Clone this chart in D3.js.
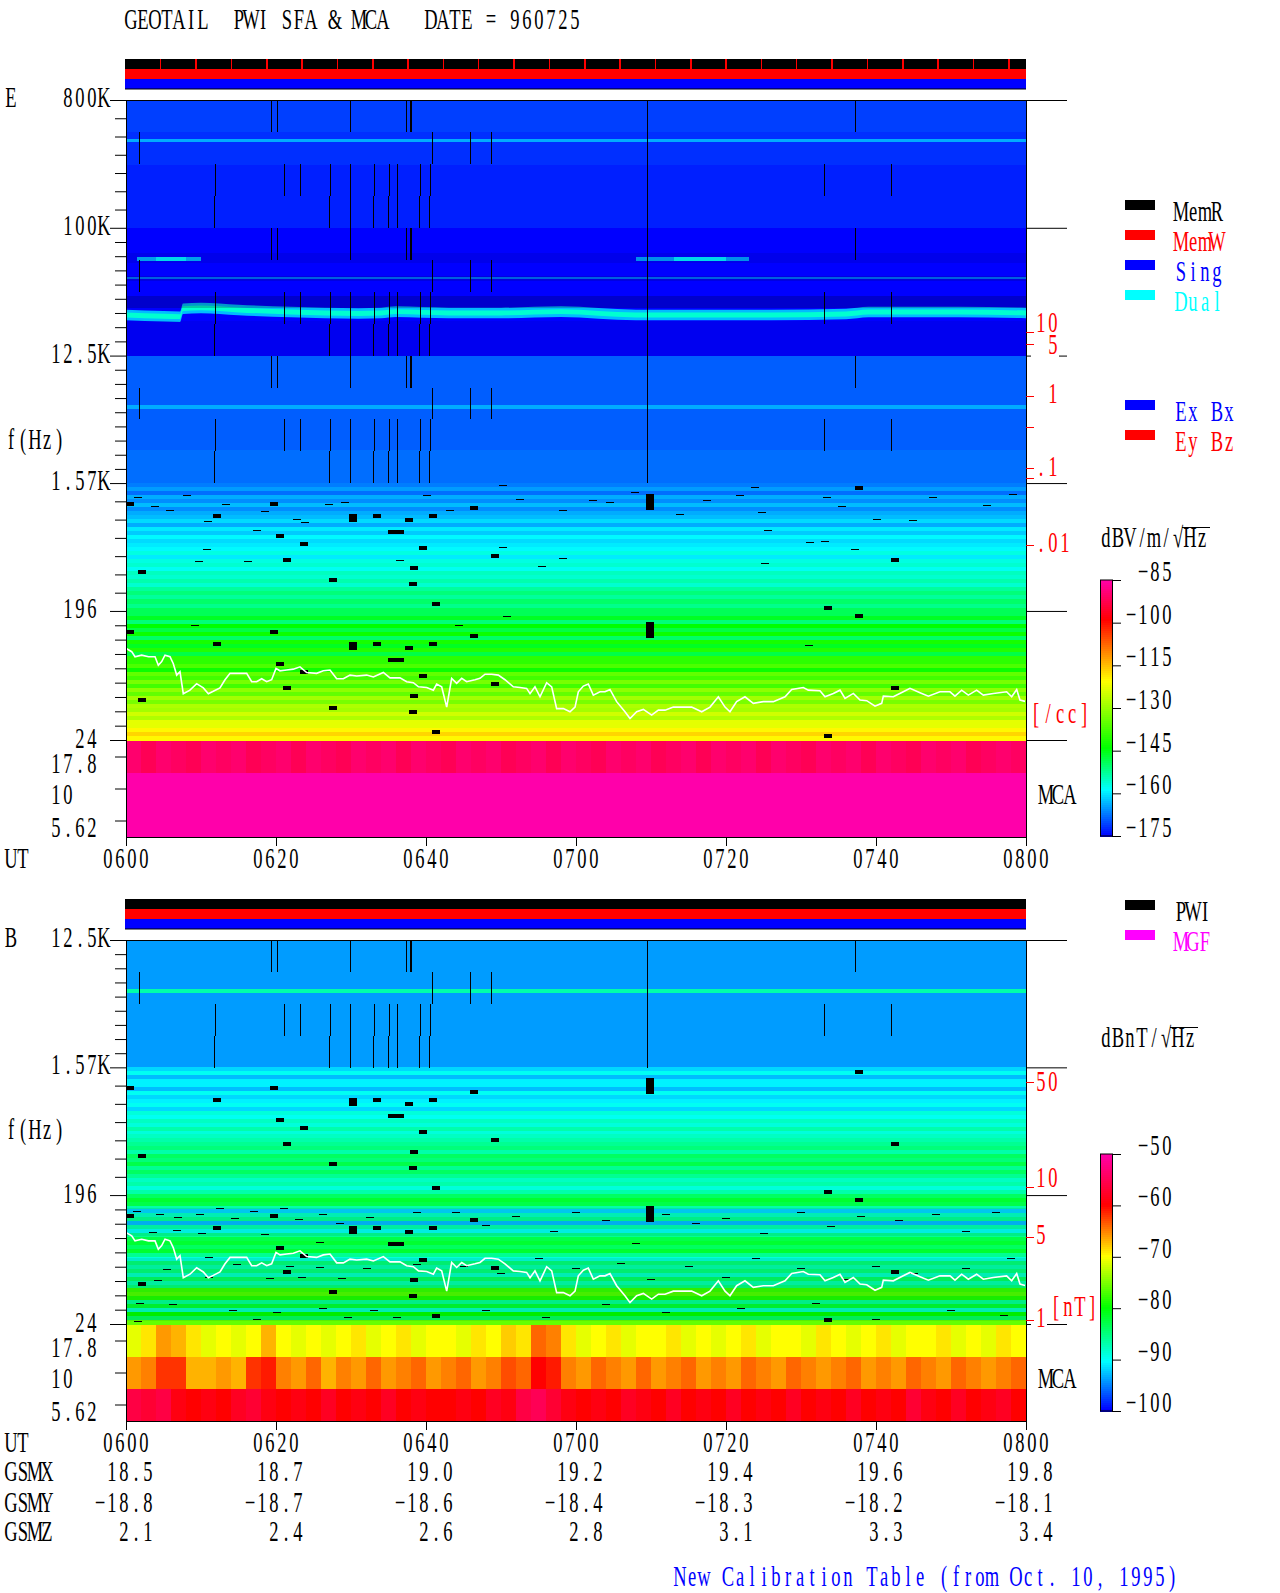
<!DOCTYPE html>
<html>
<head>
<meta charset="utf-8">
<script src="https://cdn.jsdelivr.net/npm/d3@7"></script>
<style>
  html, body { margin: 0; background: #fff; }
  svg { display: block; }
  text { font-family: "Liberation Serif", serif; font-size: 28.5px; white-space: pre; }
  .cell { shape-rendering: crispEdges; }
</style>
</head>
<body>
<svg width="1280" height="1593"></svg>
<script>
// GEOTAIL PWI SFA & MCA, 1996-07-25. All levels are estimates.
// The pixel speckle can't be read cell by cell, so it is given as a level per frequency row.

const timeTicks = [0, 20, 40, 60, 80, 100, 120];
const timeLabels = ['0600', '0620', '0640', '0700', '0720', '0740', '0800'];
const gsmx = ['18.5', '18.7', '19.0', '19.2', '19.4', '19.6', '19.8'];
const gsmy = ['−18.8', '−18.7', '−18.6', '−18.4', '−18.3', '−18.2', '−18.1'];
const gsmz = ['2.1', '2.4', '2.6', '2.8', '3.1', '3.3', '3.4'];

const eFreqTicks = [800000, 100000, 12500, 1570, 196, 24];
const bFreqTicks = [12500, 1570, 196, 24];
const mcaLabels = ['17.8', '10', '5.62'];

// UT minutes of the red marks on the top status strip
const memWriteTimes = [4.53, 9.24, 13.95, 18.67, 23.38, 28.09, 32.8, 37.51, 42.22, 46.93, 51.64, 56.36, 61.07,
  65.78, 70.49, 75.2, 79.91, 84.62, 89.33, 94.05, 98.76, 103.47, 108.18, 112.89, 117.6];

// upper decades of E: [top of the row in Hz, dB]
const eUpperRows = [
  [800000, -171], [475000, -172], [422000, -164], [405000, -172], [278000, -173], [100000, -175],
  [44900, -168], [43500, -175], [12500, -169], [5600, -164], [5250, -169], [2690, -168]
];

const bUpperRows = [[12500, -94.2], [5625, -87], [5270, -94.2]];

// 1.57K down to 24 Hz, equal rows from the top
const eLowRows = [
  -167, -165, -168, -164, -166, -163, -166, -164, -163, -161, -164, -160, -162, -159, -161, -160,
  -159, -157, -160, -157, -156, -158, -155, -156, -154, -156, -153, -151, -153, -150, -152, -149,
  -149, -146, -151, -144, -148, -143, -150, -142, -146, -141, -148, -140, -140, -137, -143, -135,
  -138, -133, -138, -131, -135, -129, -133, -128, -129, -125, -128, -123, -123, -120, -117, -120
];
const bLowRows = [
  -92, -90, -93, -91, -91, -93, -90, -92, -91, -90, -92, -89, -90, -88, -89, -87, -89, -88, -87,
  -86, -85, -87, -84, -85, -83, -86, -84, -86, -88, -87, -89, -87, -84, -82, -83,
  -87, -92, -88, -86, -93, -87, -90, -86, -83, -82, -84, -82, -86, -89, -85, -87,
  -85, -88, -84, -87, -85, -78, -77, -79, -86, -82, -88, -80, -84, -76
];

// MCA channels, from the highest, each one a series in equal time steps
const eMcaHigh = [-90, -92, -90, -91, -92, -90, -91, -90, -92, -91, -90, -92, -90, -91, -92, -90, -91, -90, -92, -90,
  -91, -92, -90, -91, -90, -92, -91, -90, -92, -90, -91, -92, -90, -91, -90, -92, -91, -90, -92, -90,
  -91, -90, -92, -90, -91, -92, -90, -91, -90, -92, -90, -91, -92, -90, -91, -90, -92, -91, -90, -91];
const eMcaMid = [-85];
const eMcaLow = [-85];
const bMcaHigh = [-71, -69, -66, -67, -69, -71, -70, -71, -70, -67, -70, -71, -70, -71, -70, -69, -71, -70, -69, -71,
  -70, -70, -71, -69, -70, -68, -69, -64, -65, -69, -71, -70, -69, -71, -70, -70, -69, -71, -70, -71,
  -70, -69, -71, -70, -70, -71, -69, -70, -71, -70, -69, -71, -70, -70, -69, -71, -70, -71, -69, -70];
const bMcaMid = [-66, -65, -62, -62, -67, -67, -66, -67, -62, -61, -65, -66, -64, -67, -65, -66, -64, -66, -65, -64,
  -66, -65, -64, -66, -65, -63, -64, -60, -61, -65, -66, -64, -65, -66, -64, -66, -65, -64, -66, -65,
  -66, -64, -65, -66, -64, -65, -66, -65, -64, -66, -65, -66, -64, -65, -66, -64, -65, -66, -65, -64];
const bMcaLow = [-56, -57, -56, -59, -60, -59, -60, -58, -57, -59, -60, -59, -60, -58, -60, -59, -60, -58, -60, -59,
  -60, -60, -59, -60, -58, -59, -56, -55, -57, -59, -60, -59, -60, -58, -59, -60, -58, -60, -59, -60,
  -58, -60, -59, -60, -58, -60, -59, -60, -58, -60, -59, -60, -57, -59, -60, -58, -60, -59, -58, -60];

// the bright band near 25 kHz: [minute, Hz]
const plasmaBand = [[0, 24200], [5, 23700], [7.2, 23540], [7.6, 26800], [10, 27130], [15, 26250], [22, 25400],
  [31, 24800], [34, 25000], [36, 25540], [43, 25000], [50, 25000], [58, 25540], [68, 24200], [76, 24200], [86, 24200],
  [96, 24600], [99, 25400], [111, 25400], [120, 25000]];

// short emissions: [start minute, end minute, Hz, dB]
const emissions = [[1.5, 4, 60200, -164], [4, 8, 60200, -160], [8, 10, 60200, -164], [68, 73, 60500, -165],
  [73, 80, 60200, -160], [80, 83, 59800, -165]];

// share of black dots in a frequency band: [top Hz, bottom Hz, share]
const eDropouts = [[66000, 56000, 0.08], [46000, 42000, 0.12], [33000, 27200, 0.2], [22000, 12500, 0.06]];
const bDropouts = [[158, 100, 0.07], [70, 25, 0.07]];

// vertical gaps, one list per quarter of a decade, in minutes
const gapTimes = [
  [19.27, 20.07, 29.8, 37.29, 37.87, 38, 69.43, 97.2],
  [1.67, 40.8, 45.87, 48.73, 69.43],
  [11.8, 21, 23.2, 27.2, 29.87, 33.07, 35.07, 36.13, 39.24, 40.57, 69.43, 93.1, 102.04],
  [11.67, 27.13, 29.8, 32.93, 34.93, 36.07, 39.13, 40.4, 69.43]
];

// black cells of the lower band: [minute, Hz in the 1.57K-196 decade, columns, rows]; they show again a decade below
const blackCells = [[0.49, 1115, 1, 1], [19.73, 1115, 1, 1], [12.09, 917, 1, 1], [30.27, 888, 1, 2], [33.47, 917, 1, 1],
  [37.73, 859, 1, 1], [36, 708, 2, 1], [20.53, 663, 1, 1], [23.73, 583, 1, 1], [21.47, 449, 1, 1], [2.09, 369, 1, 1],
  [38.36, 394, 1, 1], [27.6, 324, 1, 1], [38.27, 304, 1, 1], [40.93, 917, 1, 1], [46.4, 1046, 1, 1], [39.64, 546, 1, 1],
  [49.2, 479, 1, 1], [69.87, 1152, 1, 4], [41.33, 220, 1, 1], [97.73, 1446, 1, 1], [102.53, 449, 1, 1], [93.6, 206, 1, 1]];

// thin black dashes: [minute, Hz]
const eDashes = [[1.64, 1250], [3.87, 1073], [5.87, 1017], [8.09, 1286], [10.98, 847], [13.29, 1120], [17.42, 727], [18.53, 995],
  [22.76, 880], [23.87, 832], [27, 1120], [29.2, 1150], [10.76, 540], [9.73, 439], [16.31, 439], [36.53, 446], [9.2, 157],
  [40.09, 1300], [43.2, 1006], [50.31, 1510], [52.53, 1203], [58.31, 1006], [62.31, 1183], [64.53, 1150], [67.87, 1355],
  [73.87, 955], [77.42, 1183], [50.31, 554], [58.31, 466], [55.42, 406], [50.76, 180], [44.44, 157],
  [83.87, 1468], [81.87, 1286], [84.76, 979], [93.42, 1260], [95.42, 1073], [100.09, 880], [104.98, 857], [107.64, 1250],
  [114.76, 1092], [118.31, 1309], [85.64, 735], [91.2, 597], [93.2, 613], [97.2, 540], [85.2, 430], [91.11, 113]];
const bDashes = [[1.42, 152], [4.53, 144], [6.98, 138], [9.87, 144], [12.53, 158], [14.53, 134], [17, 152], [21, 158], [23, 133],
  [26.31, 144], [28.53, 124], [32.53, 138], [38.76, 150], [3.64, 108], [6.76, 111], [10.09, 106], [18.53, 104], [25.87, 92],
  [5.42, 59], [11, 72], [14.76, 64], [21.87, 62], [25.87, 61], [32.09, 60], [38.76, 64], [4.31, 49], [11, 52], [19.2, 51],
  [23.42, 52], [28.76, 51], [1.87, 34], [6.31, 33], [14.31, 30], [20.09, 29], [26.31, 31], [33, 30], [36.09, 27], [29.64, 27],
  [17.42, 26], [1.64, 25],
  [44, 150], [48, 120], [52, 140], [57, 110], [60, 150], [64, 130], [68, 90], [72, 145], [76, 125], [80, 135], [85, 105],
  [90, 150], [94, 118], [98, 140], [103, 130], [108, 145], [112, 110], [116, 150],
  [45, 62], [50, 55], [55, 70], [60, 60], [66, 65], [70, 50], [75, 62], [80, 52], [84, 70], [90, 60], [96, 50], [100, 62],
  [105, 55], [112, 60], [118, 70], [48, 30], [56, 27], [64, 33], [72, 29], [82, 31], [92, 34], [100, 26], [110, 30], [117, 28]];

// white trace, drawn in both panels: [minute, Hz]
const traceHz = [[0.09, 106], [0.76, 101], [1.2, 93], [2.09, 95.5], [3, 93], [3.87, 93], [4.31, 81], [4.76, 86], [5.2, 95.5],
  [5.87, 93], [6.31, 83], [6.76, 69], [7.2, 73], [7.64, 51], [8.53, 54], [9.42, 60], [10.31, 56], [10.98, 51], [11.64, 53],
  [12.53, 56], [13.2, 64], [13.87, 71], [14.76, 71], [16.09, 71], [16.76, 62], [17.42, 62], [18.09, 65], [18.76, 62], [19.42, 64],
  [20, 77], [20.53, 74], [21.42, 75], [22.31, 76], [23.2, 79], [24.09, 72], [25.42, 71], [26.31, 74], [27.2, 75], [28.09, 65],
  [28.98, 65], [29.87, 69], [30.76, 68], [32.09, 69], [32.98, 67], [34.31, 72], [35.2, 66], [36.53, 66], [37.42, 62], [38.31, 61],
  [39, 57], [40.09, 56.4], [40.98, 54], [41.42, 59.7], [42.09, 57], [42.76, 41], [43.42, 65.4], [44.09, 60.3], [44.76, 65.4],
  [45.42, 62], [46.53, 64], [47.2, 65.4], [47.87, 70], [48.76, 70], [49.64, 69], [50.53, 64], [51.64, 57], [52.53, 56.4], [53.42, 55.6],
  [53.87, 51], [54.53, 57], [55.2, 48.5], [56.09, 61], [56.76, 57], [57.42, 40], [58.31, 40], [59.2, 38], [59.87, 41], [60.31, 52.6],
  [60.98, 57.7], [61.64, 59.7], [62.31, 49.8], [63.2, 52.6], [63.87, 52.6], [64.53, 54.6], [65.42, 44.8], [66.53, 38], [67.2, 34],
  [68.09, 38], [68.98, 39.5], [70.09, 36], [70.98, 39], [71.87, 39], [72.98, 41], [74.31, 41], [75.42, 41], [76.76, 38], [77.87, 41],
  [78.98, 48.5], [79.87, 41], [80.53, 38], [81.42, 44.8], [82.53, 48.5], [83.64, 43.6], [84.98, 44.8], [86.31, 44.8], [87.87, 48.5],
  [88.76, 54.6], [90.31, 56.4], [90.98, 54], [92.53, 53.5], [93.2, 48.5], [94.31, 51.2], [95.2, 54], [95.87, 47.2], [96.98, 51.2],
  [97.87, 46], [98.76, 45.5], [99.87, 41.6], [100.76, 43.6], [100.98, 49], [102.31, 48.5], [103.64, 52.6], [104.53, 55.6], [105.87, 51.8],
  [106.98, 49], [108.53, 52.6], [109.87, 52.6], [110.53, 49], [111.42, 54], [112.31, 49.8], [113.42, 54], [114.31, 49.8], [115.64, 51.2],
  [117.42, 52.6], [118.09, 48.5], [118.76, 54.6], [119.2, 46], [119.87, 45]];

const eColorTicks = [-85, -100, -115, -130, -145, -160, -175];
const bColorTicks = [-50, -60, -70, -80, -90, -100];
const rainbow = ['#0000ff', '#00ffff', '#00ff00', '#ffff00', '#ff0000', '#ff00aa'];

const eDensityTicks = [10, 5, 1, 0.5, 0.1, 0.05, 0.01];
const eDensityLabels = ['10', '5', '1', '', '.1', '', '.01'];
const bFieldTicks = [50, 10, 5, 1];

const legendStatus = [['MemR', '#000000'], ['MemW', '#ff0000'], ['Sing', '#0000ff'], ['Dual', '#00ffff']];
const legendAntenna = [['Ex Bx', '#0000ff'], ['Ey Bz', '#ff0000']];
const legendField = [['PWI', '#000000'], ['MGF', '#ff00ff']];

const svg = d3.select('svg');
const x = d3.scaleLinear().domain([0, 120]).range([126, 1026]);

// half-width Mincho look: one fixed cell per character, squeezed glyphs
const CELL = 12, SQUEEZE = 0.65;
function label(str, left, baseline, color) {
  const chars = Array.from(str);
  const xs = chars.map((c, i) => ((i + 0.5) * CELL / SQUEEZE).toFixed(2)).join(' ');
  return svg.append('text')
    .attr('transform', `translate(${left},${baseline}) scale(${SQUEEZE},1)`)
    .attr('x', xs)
    .attr('text-anchor', 'middle')
    .attr('fill', color || '#000')
    .text(str);
}
const labelRight = (str, right, baseline, color) => label(str, right - Array.from(str).length * CELL, baseline, color);
const labelMid = (str, mid, baseline, color) => label(str, mid - Array.from(str).length * CELL / 2, baseline, color);

function cleanAxis(g) {
  g.select('.domain').remove();
  g.selectAll('text').remove();
  g.selectAll('line').attr('stroke', g.attr('data-color') || '#000');
}

function drawPanel(p) {
  const y = d3.scaleLog().domain(p.freqDomain).range(p.yRange);
  const mca = d3.scaleBand().domain(mcaLabels).range(p.mcaRange);
  const color = d3.scaleLinear().domain(p.colorStops).range(rainbow).clamp(true);
  const heat = svg.append('g').attr('class', 'heat');
  const lowTop = y(1570), lowBottom = y(24);

  // rows above 1.57K
  p.upperRows.forEach((r, i) => {
    const next = i + 1 < p.upperRows.length ? p.upperRows[i + 1][0] : 1570;
    heat.append('rect').attr('class', 'cell')
      .attr('x', x(0)).attr('width', x(120) - x(0))
      .attr('y', y(r[0])).attr('height', y(next) - y(r[0]))
      .attr('fill', color(r[1]));
  });

  // rows below 1.57K
  const lowBand = d3.scaleBand().domain(d3.range(p.lowRows.length)).range([lowTop, lowBottom]);
  heat.selectAll('rect.low').data(p.lowRows).enter().append('rect')
    .attr('class', 'low cell')
    .attr('x', x(0)).attr('width', x(120) - x(0))
    .attr('y', (d, i) => lowBand(i)).attr('height', lowBand.bandwidth() + 0.5)
    .attr('fill', d => color(d));

  // MCA strips
  p.mcaSeries.forEach((series, c) => {
    const col = d3.scaleBand().domain(d3.range(series.length)).range([x(0), x(120)]);
    heat.append('g').selectAll('rect').data(series).enter().append('rect')
      .attr('class', 'cell')
      .attr('x', (d, i) => col(i)).attr('width', col.bandwidth() + 0.5)
      .attr('y', mca(mcaLabels[c])).attr('height', mca.bandwidth())
      .attr('fill', d => color(d));
  });

  // E only: emission lines
  if (p.band) {
    const area = level => d3.area()
      .x(d => x(d[0]))
      .y0(d => y(d[1] * level))
      .y1(d => y(d[1] / level))
      .curve(d3.curveMonotoneX);
    heat.append('path').attr('d', area(1.09)(p.band)).attr('fill', color(-163));
    heat.append('path').attr('d', area(1.04)(p.band)).attr('fill', color(-156));
    heat.selectAll('rect.em').data(p.emissions).enter().append('rect')
      .attr('class', 'em cell')
      .attr('x', d => x(d[0])).attr('width', d => x(d[1]) - x(d[0]))
      .attr('y', d => y(d[2]) - 2).attr('height', 4)
      .attr('fill', d => color(d[3]));
  }

  heat.selectAll('rect.drop').data(p.dropouts).enter().append('rect')
    .attr('class', 'drop cell')
    .attr('x', x(0)).attr('width', x(120) - x(0))
    .attr('y', d => y(d[0])).attr('height', d => y(d[1]) - y(d[0]))
    .attr('fill', '#000').attr('fill-opacity', d => d[2]);

  // vertical gaps, each list repeats at the same place of every decade
  p.gapDecades.forEach(top => {
    gapTimes.forEach((times, q) => {
      const hi = top / Math.pow(8, q / 4), lo = top / Math.pow(8, (q + 1) / 4);
      heat.append('g').selectAll('rect').data(times).enter().append('rect')
        .attr('class', 'cell')
        .attr('x', d => x(d)).attr('width', 1)
        .attr('y', y(hi)).attr('height', y(lo) - y(hi))
        .attr('fill', '#000');
    });
  });

  const cells = blackCells.concat(blackCells.map(d => [d[0], d[1] / 8, d[2], d[3]]));
  heat.selectAll('rect.black').data(cells).enter().append('rect')
    .attr('class', 'black cell')
    .attr('x', d => x(d[0]) - 4 * d[2]).attr('width', d => 8 * d[2])
    .attr('y', d => y(d[1]) - 2 * d[3]).attr('height', d => 4 * d[3])
    .attr('fill', '#000');

  heat.selectAll('rect.dash').data(p.dashes).enter().append('rect')
    .attr('class', 'dash cell')
    .attr('x', d => x(d[0]) - 4).attr('width', 8)
    .attr('y', d => y(d[1])).attr('height', 1)
    .attr('fill', '#000');

  const line = d3.line().x(d => x(d[0])).y(d => y(d[1]));
  heat.append('path').attr('d', line(traceHz))
    .attr('fill', 'none').attr('stroke', '#fff').attr('stroke-width', 1.6);

  // frame
  const frame = svg.append('g').attr('stroke', '#000').attr('fill', 'none');
  frame.append('line').attr('x1', 110).attr('x2', 1067).attr('y1', p.yRange[1] + 0.5).attr('y2', p.yRange[1] + 0.5);
  frame.append('line').attr('x1', x(0) + 0.5).attr('x2', x(0) + 0.5).attr('y1', p.yRange[1]).attr('y2', p.mcaRange[1]);
  frame.append('line').attr('x1', x(120) + 0.5).attr('x2', x(120) + 0.5).attr('y1', p.yRange[1]).attr('y2', p.mcaRange[1]);

  // frequency axes
  const decades = d3.pairs(p.freqTicks);
  const minor = decades.flatMap((d, i) => {
    const n = p.minorSteps[i];
    return d3.range(1, n).map(k => d[0] * Math.pow(d[1] / d[0], k / n));
  });
  svg.append('g').attr('transform', `translate(${x(0)},0)`)
    .call(d3.axisLeft(y).tickValues(minor).tickSize(11)).call(cleanAxis);
  svg.append('g').attr('transform', `translate(${x(0)},0)`)
    .call(d3.axisLeft(y).tickValues(p.freqTicks).tickSize(16)).call(cleanAxis);
  svg.append('g').attr('transform', `translate(${x(120)},0)`)
    .call(d3.axisRight(y).tickValues(p.freqTicks).tickSize(41)).call(cleanAxis);
  svg.append('g').attr('transform', `translate(${x(0)},0)`)
    .call(d3.axisLeft(mca).tickSize(11)).call(cleanAxis);
  svg.append('g').attr('transform', `translate(0,${p.mcaRange[1]})`)
    .call(d3.axisBottom(x).tickValues(timeTicks).tickSize(9)).call(cleanAxis);
  svg.append('line').attr('x1', x(0)).attr('x2', x(120)).attr('y1', p.mcaRange[1] + 0.5).attr('y2', p.mcaRange[1] + 0.5).attr('stroke', '#000');

  p.freqTicks.forEach((f, i) => {
    const text = p.freqLabels[i];
    if (text.endsWith('K')) labelRight(text, 110, y(f) + 7);
    else labelRight(text, 98, y(f) + 7.5);
  });
  labelRight(mcaLabels[0], 98, mca(mcaLabels[0]) + mca.bandwidth() / 2 + 16);
  label(mcaLabels[1], 50, mca(mcaLabels[1]) + mca.bandwidth() / 2 + 15);
  labelRight(mcaLabels[2], 98, mca(mcaLabels[2]) + mca.bandwidth() / 2 + 16);
  label('MCA', 1040, mca(mcaLabels[1]) + mca.bandwidth() / 2 + 15);
  label(p.name, 5, y(p.freqTicks[0]) + 7);
  label('f(Hz)', 5, p.fLabelY);
  label('UT', 5, p.mcaRange[1] + 31);
  timeLabels.forEach((t, i) => labelMid(t, x(timeTicks[i]), p.mcaRange[1] + 31));

  // status strips
  const strip = d3.scaleBand().domain(['#000000', '#ff0000', '#0000ff']).range(p.stripRange);
  svg.append('g').selectAll('rect').data(strip.domain()).enter().append('rect')
    .attr('class', 'cell')
    .attr('x', x(0) - 1).attr('width', x(120) - x(0) + 1)
    .attr('y', d => strip(d)).attr('height', strip.bandwidth())
    .attr('fill', d => d);
  svg.append('line').attr('x1', x(0) - 1).attr('x2', x(120)).attr('y1', p.stripRange[1]).attr('y2', p.stripRange[1]).attr('stroke', '#000');
  svg.append('g').selectAll('rect').data(p.stripMarks).enter().append('rect')
    .attr('class', 'cell')
    .attr('x', d => x(d)).attr('width', 1.5)
    .attr('y', strip('#000000')).attr('height', strip.bandwidth())
    .attr('fill', '#ff0000');

  // colour bar
  const barY = d3.scaleLinear().domain([p.colorStops[0], p.colorStops[5]]).range(p.barRange);
  const levels = d3.range(p.colorStops[0], p.colorStops[5], (p.colorStops[5] - p.colorStops[0]) / 128);
  const stepPx = (p.barRange[0] - p.barRange[1]) / 128;
  svg.append('g').selectAll('rect').data(levels).enter().append('rect')
    .attr('class', 'cell')
    .attr('x', 1100).attr('width', 12)
    .attr('y', d => barY(d) - stepPx).attr('height', stepPx + 0.5)
    .attr('fill', d => color(d));
  svg.append('rect').attr('x', 1100.5).attr('width', 12)
    .attr('y', p.barRange[1]).attr('height', p.barRange[0] - p.barRange[1])
    .attr('fill', 'none').attr('stroke', '#000');
  svg.append('g').attr('transform', 'translate(1112,0)')
    .call(d3.axisRight(barY).tickValues(p.colorTicks).tickSize(9)).call(cleanAxis);
  p.colorTicks.forEach(v => labelRight('−' + Math.abs(v), 1173, barY(v) + 1));

  return y;
}

const yE = drawPanel({
  name: 'E',
  freqDomain: [24, 800000], yRange: [740, 100], mcaRange: [741, 837], stripRange: [59, 89],
  colorStops: [-175, -158.7, -144, -120.6, -99, -85], barRange: [836, 580],
  upperRows: eUpperRows, lowRows: eLowRows, mcaSeries: [eMcaHigh, eMcaMid, eMcaLow],
  band: plasmaBand, emissions: emissions, dropouts: eDropouts, dashes: eDashes,
  gapDecades: [800000, 100000, 12500],
  freqTicks: eFreqTicks, freqLabels: ['800K', '100K', '12.5K', '1.57K', '196', '24'],
  minorSteps: [7, 9, 9, 7, 9], stripMarks: memWriteTimes, colorTicks: eColorTicks, fLabelY: 449
});

const yB = drawPanel({
  name: 'B',
  freqDomain: [24, 12500], yRange: [1324, 940], mcaRange: [1325, 1421], stripRange: [899, 929],
  colorStops: [-100, -90.5, -80, -70, -60, -50], barRange: [1411, 1154],
  upperRows: bUpperRows, lowRows: bLowRows, mcaSeries: [bMcaHigh, bMcaMid, bMcaLow],
  emissions: [], dropouts: bDropouts, dashes: bDashes,
  gapDecades: [12500],
  freqTicks: bFreqTicks, freqLabels: ['12.5K', '1.57K', '196', '24'],
  minorSteps: [9, 7, 9], stripMarks: [], colorTicks: bColorTicks, fLabelY: 1139
});

// red scales on the right, their spacing is uneven in the original
const yDensity = d3.scaleLog().domain(eDensityTicks).range([332, 344, 396, 427, 468, 478, 545]);
const yField = d3.scaleLog().domain(bFieldTicks).range([1082, 1187, 1237, 1320]);

svg.append('rect').attr('x', 1031).attr('y', 353).attr('width', 28).attr('height', 6).attr('fill', '#fff');
svg.append('rect').attr('x', 1031).attr('y', 1322).attr('width', 16).attr('height', 5).attr('fill', '#fff');

svg.append('g').attr('transform', `translate(${x(120)},0)`).attr('data-color', '#ff0000')
  .call(d3.axisRight(yDensity).tickValues(eDensityTicks).tickSize(8)).call(cleanAxis);
svg.append('g').attr('transform', `translate(${x(120)},0)`).attr('data-color', '#ff0000')
  .call(d3.axisRight(yField).tickValues(bFieldTicks).tickSize(8)).call(cleanAxis);

// the labels sit off their ticks in the original: 10 stays above its tick and 5 below
const densityDrop = { '10': 0, '5': 10, '1': 7, '.1': 8, '.01': 7 };
eDensityTicks.forEach((v, i) => {
  const text = eDensityLabels[i];
  if (text) labelRight(text, text === '.01' ? 1071 : 1059, yDensity(v) + densityDrop[text], '#ff0000');
});
label('[/cc]', 1030, 723, '#ff0000');
const fieldDrop = { 50: 9, 10: 0, 5: 7, 1: 7 };
bFieldTicks.forEach(v => label(String(v), 1035, yField(v) + fieldDrop[v], '#ff0000'));
label('[nT]', 1050, 1316, '#ff0000');

// texts of the page
label('GEOTAIL  PWI SFA & MCA   DATE = 960725', 125, 29);
label('New Calibration Table (from Oct. 10, 1995)', 674, 1586, '#0000ff');

[['GSMX', gsmx, 1481], ['GSMY', gsmy, 1512], ['GSMZ', gsmz, 1541]].forEach(row => {
  label(row[0], 5, row[2]);
  row[1].forEach((v, i) => labelRight(v, x(timeTicks[i]) + 28, row[2]));
});

function legend(items, top) {
  items.forEach((d, i) => {
    svg.append('rect').attr('class', 'cell')
      .attr('x', 1125).attr('y', top + i * 30).attr('width', 30).attr('height', 10)
      .attr('fill', d[1]);
    label(d[0], 1175, top + 21 + i * 30, d[1]);
  });
}
legend(legendStatus, 200);
legend(legendAntenna, 400);
legend(legendField, 900);

label('dBV/m/√Hz', 1100, 547);
svg.append('line').attr('x1', 1182).attr('x2', 1210).attr('y1', 527.5).attr('y2', 527.5).attr('stroke', '#000');
label('dBnT/√Hz', 1100, 1047);
svg.append('line').attr('x1', 1170).attr('x2', 1198).attr('y1', 1027.5).attr('y2', 1027.5).attr('stroke', '#000');
</script>
</body>
</html>
